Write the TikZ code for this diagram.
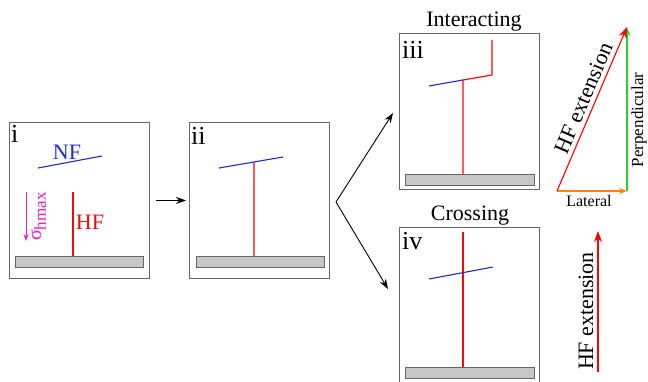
\documentclass[tikz,border=0pt]{standalone}
\usepackage{fontspec}
\setmainfont{Liberation Serif}
\usetikzlibrary{arrows.meta}
\definecolor{fblue}{RGB}{30,40,220}
\definecolor{fred}{RGB}{240,10,10}
\definecolor{lred}{RGB}{250,90,90}
\definecolor{fmag}{RGB}{230,30,200}
\definecolor{forange}{RGB}{250,130,30}
\definecolor{fgreen}{RGB}{40,210,40}
\begin{document}
\begin{tikzpicture}[x=1pt,y=-1pt,font=\rmfamily,
  panel/.style={draw=black!60, line width=0.9pt, minimum width=140pt, minimum height=156pt, inner sep=0pt, anchor=north west},
  bar/.style={draw=black!60, fill=black!22, line width=0.8pt},
  nfline/.style={draw=fblue, line width=1.1pt},
  hfline/.style={draw=fred, line width=1.2pt},
  flow/.style={draw=black, line width=0.9pt, -{Stealth[length=10pt,width=7pt]}},
  roman/.style={font=\rmfamily\fontsize{26}{28}\selectfont, inner sep=0pt, anchor=base west},
  lbl/.style={inner sep=0pt}
]
\useasboundingbox (0,0) rectangle (648,382);

% panels
\node[panel] (boxi) at (9,122) {};
\node[panel] (boxii) at (189,122) {};
\node[panel] (boxiii) at (399,33) {};
\node[panel] (boxiv) at (399,227) {};

% panel i
\draw[bar] (15,256) rectangle (143,267);
\draw[nfline] (38,168) -- (102,156);
\draw[hfline] (73,192) -- (73,256);
\draw[draw=fmag, line width=1pt, -{Stealth[length=7pt,width=5pt]}] (26,192) -- (26,241);
\node[roman] (ri) at (11,143) {i};
\node[lbl, text=fblue, font=\rmfamily\fontsize{22}{24}\selectfont, anchor=base] (nflabel) at (67,160) {NF};
\node[lbl, text=fred, font=\rmfamily\fontsize{22}{24}\selectfont, anchor=base] (hflabel) at (90,230) {HF};
\node[lbl, text=fmag, rotate=90, anchor=base west] (sig) at (41,241) {\fontsize{20}{22}\selectfont σ\raisebox{-5pt}{\fontsize{17}{20}\selectfont hmax}};

% panel ii
\draw[bar] (196,256) rectangle (324,267);
\draw[draw=lred, line width=1.2pt] (254,162) -- (254,256);
\draw[nfline] (219,168) -- (283,157);
\node[roman] (rii) at (191,145) {ii};

% panel iii
\draw[bar] (405,174) rectangle (534,185);
\draw[nfline] (429,86) -- (463,80);
\draw[hfline] (463,174) -- (463,80) -- (492,75) -- (492,40);
\node[roman] (riii) at (402,59) {iii};
\node[lbl, font=\rmfamily\fontsize{22}{24}\selectfont, anchor=base] (tint) at (474,27) {Interacting};

% panel iv
\draw[bar] (405,367) rectangle (534,378);
\draw[hfline] (463,232) -- (463,367);
\draw[nfline] (429,279) -- (493,267);
\node[roman] (riv) at (402,250) {iv};
\node[lbl, font=\rmfamily\fontsize{22}{24}\selectfont, anchor=base] (tcross) at (470,221) {Crossing};

% flow arrows
\draw[flow] ([xshift=6pt]boxi.east) -- ([xshift=-3pt]boxii.west);
\coordinate (br) at (336,202);
\coordinate (toiii) at (393,113);
\coordinate (toiv) at (388,289);
\draw[flow] (br) -- (toiii);
\draw[flow] (br) -- (toiv);

% vector triangle
\coordinate (o) at (557,191);
\coordinate (lat) at (627,191);
\coordinate (top) at (627,27);
\draw[draw=forange, line width=1.1pt, -{Stealth[length=8pt,width=6pt]}] (o) -- (lat);
\draw[draw=fgreen, line width=1.3pt, -{Stealth[length=9pt,width=7pt]}] (lat) -- (top);
\draw[draw=red, line width=1.1pt, -{Stealth[length=11pt,width=8pt]}] (o) -- (top);
\node[lbl, font=\rmfamily\fontsize{16}{18}\selectfont, anchor=base] (tlat) at (589,207) {Lateral};
\node[lbl, font=\rmfamily\fontsize{17}{19}\selectfont, rotate=90, anchor=base] (tperp) at (643,120) {Perpendicular};
\node[lbl, font=\rmfamily\fontsize{22}{24}\selectfont, rotate=66.9, anchor=base] (thyp) at (590,101) {HF extension};

% separate HF extension arrow
\coordinate (ea) at (598,372);
\coordinate (eb) at (598,231);
\draw[draw=red, line width=1.1pt, -{Stealth[length=11pt,width=8pt]}] (ea) -- (eb);
\node[lbl, font=\rmfamily\fontsize{22}{24}\selectfont, rotate=90, anchor=base] (tsep) at (593,311) {HF extension};
\end{tikzpicture}
\end{document}
